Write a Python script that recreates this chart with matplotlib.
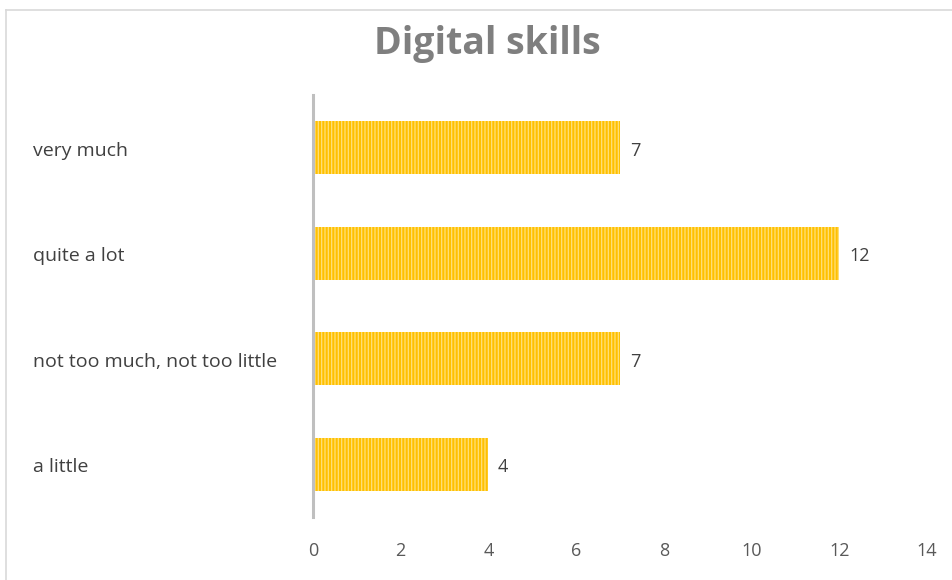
import matplotlib
matplotlib.use("Agg")
import matplotlib.pyplot as plt
from matplotlib.lines import Line2D
from matplotlib.transforms import blended_transform_factory

categories = ["a little", "not too much, not too little", "quite a lot", "very much"]
values = [4, 7, 12, 7]
xticks = [0, 2, 4, 6, 8, 10, 12, 14]

plt.rcParams["font.family"] = ["Open Sans", "DejaVu Sans"]
plt.rcParams["hatch.linewidth"] = 0.9

W, H = 953, 580
fig = plt.figure(figsize=(W / 100, H / 100), dpi=100)
fig.patch.set_facecolor("white")

# axes placement in pixels
left, right, top, bottom = 313, 927, 95, 517
ax = fig.add_axes([left / W, 1 - bottom / H, (right - left) / W, (bottom - top) / H])

y = list(range(len(categories)))
ax.barh(y, values, height=0.5, color="#FFC000", edgecolor="#FFE07A",
        hatch="|||||", linewidth=0, zorder=2)

for yi, v in zip(y, values):
    ax.text(v + 0.22, yi - 0.03, str(v), va="center", ha="left", fontsize=13, color="#404040")

ax.set_xlim(0, 14)
ax.set_ylim(-0.5, 3.5)
ax.set_xticks(xticks)
ax.set_xticklabels([str(t) for t in xticks], fontsize=13, color="#595959")
ax.set_yticks([])
ax.tick_params(axis="x", length=0, pad=18)

# category labels, left-aligned at a fixed figure position
trans = blended_transform_factory(fig.transFigure, ax.transData)
for yi, cat in zip(y, categories):
    fig.text(33 / W, yi - 0.03, cat, transform=trans, ha="left", va="center",
             fontsize=14, color="#404040")

for s in ["top", "right", "bottom"]:
    ax.spines[s].set_visible(False)
ax.spines["left"].set_color("#BFBFBF")
ax.spines["left"].set_linewidth(2.2)
ax.spines["left"].set_zorder(3)

fig.text(487 / W, 1 - 44 / H, "Digital skills", ha="center", va="center",
         fontsize=27, fontweight="bold", color="#7F7F7F")

# chart frame
fig.add_artist(Line2D([6 / W, 1], [1 - 10 / H, 1 - 10 / H], transform=fig.transFigure,
                      color="#D9D9D9", linewidth=1.2))
fig.add_artist(Line2D([6 / W, 6 / W], [0, 1 - 10 / H], transform=fig.transFigure,
                      color="#D9D9D9", linewidth=1.2))

fig.savefig("out.png", dpi=100, facecolor="white")
